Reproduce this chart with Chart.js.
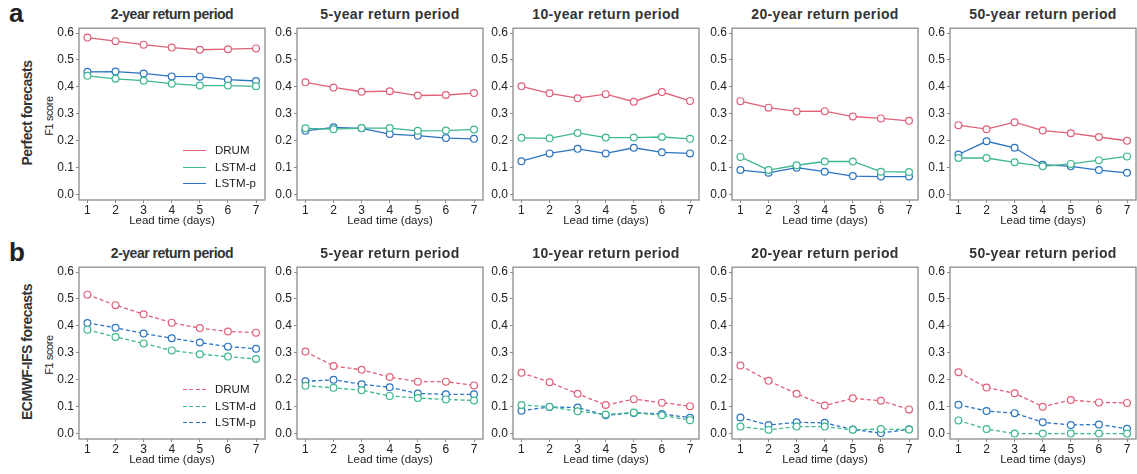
<!DOCTYPE html>
<html>
<head>
<meta charset="utf-8">
<script src="https://cdn.jsdelivr.net/npm/chart.js@4.4.1/dist/chart.umd.min.js"></script>
<style>
body { margin: 0; background: #fff; font-family: Arial, "Liberation Sans", sans-serif; color: #222; }
#wrap { position: relative; width: 1137px; height: 474px; overflow: hidden; }
#wrap canvas, .abs { position: absolute; }
.title { font-weight: bold; font-size: 14px; line-height: 14px; color: #333; text-align: center; white-space: nowrap; }
.tag { font-weight: bold; font-size: 26px; line-height: 26px; color: #222; }
.rot { white-space: nowrap; transform: translate(-50%, -50%) rotate(-90deg); }
.rowlab { font-weight: bold; font-size: 14px; letter-spacing: -0.5px; color: #333; }
.ylab { font-size: 11px; letter-spacing: -0.4px; color: #222; }
.leg { font-size: 11.5px; line-height: 12px; color: #222; white-space: nowrap; }
.legline { height: 0; width: 23px; }
</style>
</head>
<body>
<div id="wrap"></div>
<script>
// Data
const leadTimes = [1, 2, 3, 4, 5, 6, 7];
const yTicks = [0, 0.1, 0.2, 0.3, 0.4, 0.5, 0.6];
const periods = ['2-year return period', '5-year return period', '10-year return period', '20-year return period', '50-year return period'];
const models = ['DRUM', 'LSTM-d', 'LSTM-p'];
const colors = ['#E0607A', '#3DB890', '#2C74C0'];

// a: perfect forecasts (one row per return period)
const perfectDRUM = [
    [0.583, 0.570, 0.557, 0.546, 0.538, 0.540, 0.543],
    [0.417, 0.398, 0.382, 0.384, 0.368, 0.370, 0.377],
    [0.402, 0.376, 0.358, 0.373, 0.345, 0.381, 0.348],
    [0.347, 0.323, 0.309, 0.310, 0.290, 0.283, 0.274],
    [0.258, 0.243, 0.269, 0.238, 0.228, 0.214, 0.200]
];
const perfectLSTMd = [
    [0.441, 0.430, 0.423, 0.412, 0.405, 0.405, 0.402],
    [0.246, 0.243, 0.247, 0.247, 0.237, 0.238, 0.242],
    [0.211, 0.209, 0.229, 0.212, 0.212, 0.214, 0.207],
    [0.140, 0.091, 0.109, 0.123, 0.123, 0.085, 0.084],
    [0.136, 0.136, 0.120, 0.105, 0.114, 0.128, 0.142]
];
const perfectLSTMp = [
    [0.456, 0.457, 0.450, 0.439, 0.438, 0.427, 0.422],
    [0.237, 0.250, 0.246, 0.225, 0.219, 0.210, 0.207],
    [0.124, 0.153, 0.170, 0.153, 0.174, 0.157, 0.153],
    [0.091, 0.081, 0.100, 0.085, 0.069, 0.067, 0.067],
    [0.149, 0.198, 0.174, 0.111, 0.105, 0.091, 0.081]
];

// b: ECMWF-IFS forecasts
const ecmwfDRUM = [
    [0.516, 0.477, 0.443, 0.412, 0.392, 0.379, 0.375],
    [0.305, 0.251, 0.237, 0.210, 0.193, 0.193, 0.179],
    [0.226, 0.191, 0.148, 0.106, 0.128, 0.115, 0.102],
    [0.253, 0.196, 0.148, 0.104, 0.131, 0.122, 0.090],
    [0.228, 0.171, 0.150, 0.100, 0.125, 0.116, 0.114]
];
const ecmwfLSTMd = [
    [0.386, 0.359, 0.335, 0.309, 0.295, 0.286, 0.277],
    [0.178, 0.170, 0.161, 0.140, 0.132, 0.127, 0.123],
    [0.106, 0.100, 0.083, 0.071, 0.078, 0.068, 0.050],
    [0.026, 0.014, 0.026, 0.026, 0.014, 0.017, 0.015],
    [0.049, 0.017, 0.000, 0.000, 0.000, 0.000, 0.000]
];
const ecmwfLSTMp = [
    [0.411, 0.393, 0.372, 0.354, 0.338, 0.323, 0.315],
    [0.194, 0.200, 0.183, 0.172, 0.149, 0.146, 0.146],
    [0.085, 0.099, 0.097, 0.068, 0.077, 0.073, 0.059],
    [0.060, 0.032, 0.042, 0.040, 0.015, 0.002, 0.016],
    [0.107, 0.084, 0.076, 0.042, 0.032, 0.034, 0.018]
];

// Layout
const frameLefts = [79, 297, 513, 732, 950];
const frameW = 186;
const frameH = 173;
const rows = [
    { top: 27, tag: 'a', label: 'Perfect forecasts', series: [perfectDRUM, perfectLSTMd, perfectLSTMp], dash: [] },
    { top: 266, tag: 'b', label: 'ECMWF-IFS forecasts', series: [ecmwfDRUM, ecmwfLSTMd, ecmwfLSTMp], dash: [4, 2.5] }
];
const PAD_TOP = 8, PAD_RIGHT = 6, Y_W = 36, X_H = 33;

const wrap = document.getElementById('wrap');

function addDiv(cls, html, style) {
    const d = document.createElement('div');
    d.className = 'abs ' + cls;
    d.innerHTML = html;
    Object.assign(d.style, style);
    wrap.appendChild(d);
    return d;
}

// Frame around the plot area
const framePlugin = {
    id: 'frame',
    beforeDatasetsDraw(chart) {
        const { ctx, chartArea: a } = chart;
        ctx.save();
        ctx.strokeStyle = '#8c8c8c';
        ctx.lineWidth = 1.3;
        ctx.strokeRect(a.left, a.top, a.right - a.left, a.bottom - a.top);
        ctx.restore();
    }
};

const tickFont = { family: 'Arial, "Liberation Sans", sans-serif', size: 12 };

rows.forEach((row, r) => {
    addDiv('tag', row.tag, { left: '9px', top: (row.top - 27) + 'px' });
    addDiv('rot rowlab', row.label, { left: '27px', top: (row.top + (r === 0 ? 86 : 86)) + 'px' });
    addDiv('rot ylab', 'F1 score', { left: '49px', top: (row.top + 89) + 'px' });

    periods.forEach((p, k) => {
        const left = frameLefts[k];
        addDiv('title', p, {
            left: left + 'px', top: (row.top - 20) + 'px', width: frameW + 'px',
            letterSpacing: k === 0 ? '-0.5px' : '0.35px'
        });

        const cv = document.createElement('canvas');
        const w = Y_W + frameW + PAD_RIGHT;
        const h = PAD_TOP + frameH + X_H;
        cv.width = w; cv.height = h;
        cv.style.left = (left - Y_W) + 'px';
        cv.style.top = (row.top - PAD_TOP) + 'px';
        cv.style.width = w + 'px'; cv.style.height = h + 'px';
        wrap.appendChild(cv);

        const datasets = models.map((m, i) => ({
            label: m,
            data: leadTimes.map((x, j) => ({ x: x, y: row.series[i][k][j] })),
            borderColor: colors[i],
            backgroundColor: '#fff',
            borderWidth: 1.3,
            borderDash: row.dash,
            pointRadius: 3.4,
            pointBorderWidth: 1.2,
            pointBackgroundColor: '#fff',
            pointBorderColor: colors[i],
            tension: 0
        }));

        new Chart(cv, {
            type: 'line',
            data: { datasets: datasets },
            options: {
                responsive: false,
                animation: false,
                devicePixelRatio: 1,
                layout: { padding: { top: PAD_TOP, right: PAD_RIGHT, left: 0, bottom: 0 } },
                plugins: { legend: { display: false }, tooltip: { enabled: false } },
                scales: {
                    x: {
                        type: 'linear', min: 0.7, max: 7.32,
                        afterBuildTicks: s => { s.ticks = leadTimes.map(v => ({ value: v })); },
                        afterFit: s => { s.height = X_H; },
                        ticks: { font: tickFont, color: '#222', padding: 0, callback: v => v },
                        grid: { drawOnChartArea: false, drawTicks: true, tickLength: 3, color: '#8c8c8c' },
                        border: { display: false },
                        title: { display: true, text: 'Lead time (days)', color: '#222',
                                 font: { family: tickFont.family, size: 11.5 }, padding: { top: 0, bottom: 5 } }
                    },
                    y: {
                        min: -0.02, max: 0.618,
                        afterBuildTicks: s => { s.ticks = yTicks.map(v => ({ value: v })); },
                        afterFit: s => { s.width = Y_W; },
                        ticks: { font: tickFont, color: '#222', padding: 2, callback: v => v.toFixed(1) },
                        grid: { drawOnChartArea: false, drawTicks: true, tickLength: 3, color: '#8c8c8c' },
                        border: { display: false }
                    }
                }
            },
            plugins: [framePlugin]
        });
    });

    // Legend inside the first panel
    const legTops = [row.top + 123, row.top + 140, row.top + 156];
    models.forEach((m, i) => {
        const line = addDiv('legline', '', {
            left: '183px', top: legTops[i] + 'px',
            borderTop: row.dash.length ? 'none' : '1.3px solid ' + colors[i],
            height: row.dash.length ? '1.3px' : '0',
            background: row.dash.length ? `repeating-linear-gradient(90deg, ${colors[i]} 0 4px, transparent 4px 6.5px)` : 'none'
        });
        addDiv('leg', m, { left: '215px', top: (legTops[i] - 6) + 'px' });
    });
});
</script>
</body>
</html>
